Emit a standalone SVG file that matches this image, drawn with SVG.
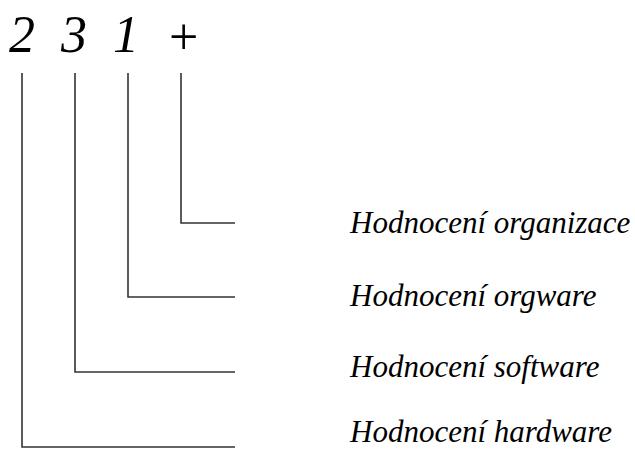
<svg xmlns="http://www.w3.org/2000/svg" width="635" height="450" viewBox="0 0 635 450">
  <style>
    .code { font-family: "Liberation Serif", "Times New Roman", serif; font-style: italic; font-size: 52px; fill: #000; }
    .plus { font-family: "Liberation Serif", "Times New Roman", serif; font-size: 52px; fill: #000; }
    .label { font-family: "Liberation Serif", "Times New Roman", serif; font-style: italic; font-size: 31px; fill: #000; }
    .link { fill: none; stroke: #333; stroke-width: 1.6; }
  </style>
  <rect width="635" height="450" fill="#fff"/>
  <g id="code">
    <text class="code" x="9" y="52">2</text>
    <text class="code" x="61" y="52">3</text>
    <text class="code" x="113" y="52">1</text>
    <text class="plus" x="169" y="54">+</text>
  </g>
  <g id="connectors">
    <polyline class="link" points="181,73 181,223 235,223"/>
    <polyline class="link" points="128,73 128,297 235,297"/>
    <polyline class="link" points="75,73 75,372 235,372"/>
    <polyline class="link" points="22,73 22,447 235,447"/>
  </g>
  <g id="organizace"><text class="label" x="350" y="233">Hodnocení organizace</text></g>
  <g id="orgware"><text class="label" x="350" y="306">Hodnocení orgware</text></g>
  <g id="software"><text class="label" x="350" y="377">Hodnocení software</text></g>
  <g id="hardware"><text class="label" x="350" y="442">Hodnocení hardware</text></g>
</svg>
